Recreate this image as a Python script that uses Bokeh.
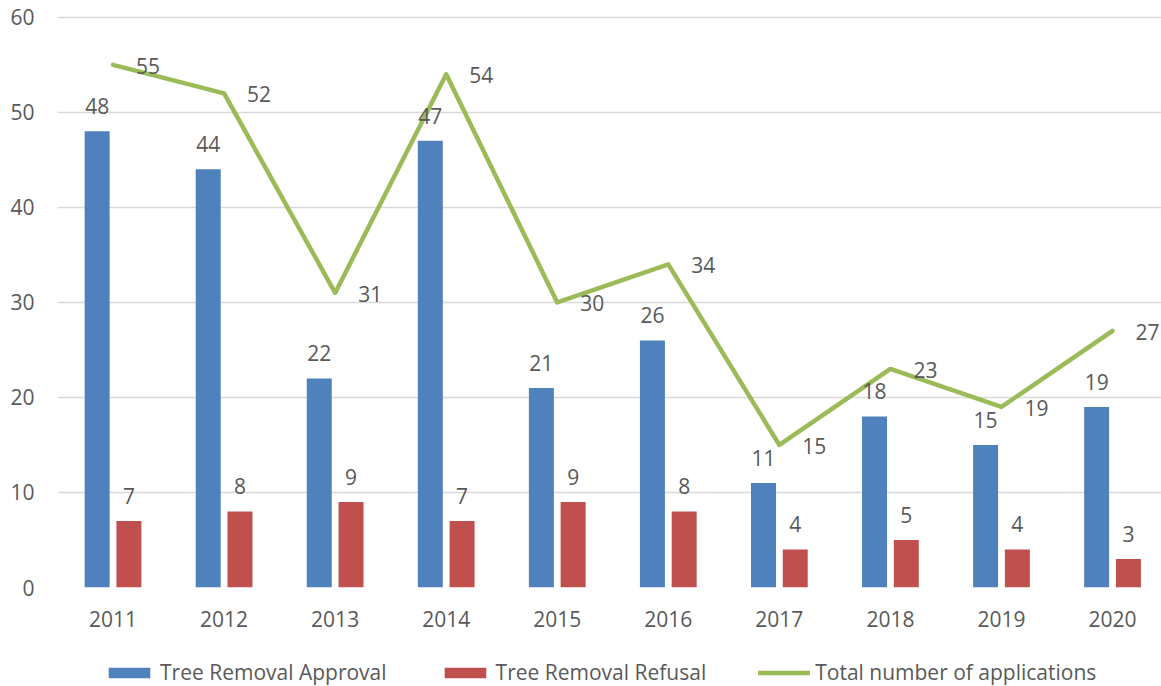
import numpy as np
from bokeh.plotting import figure
from bokeh.layouts import column
from bokeh.models import (ColumnDataSource, Range1d, FixedTicker, Legend, LegendItem)
from bokeh.core.properties import value
from bokeh.embed import file_html
from bokeh.resources import INLINE

years = ["2011", "2012", "2013", "2014", "2015", "2016", "2017", "2018", "2019", "2020"]
approval = [48, 44, 22, 47, 21, 26, 11, 18, 15, 19]
refusal = [7, 8, 9, 7, 9, 8, 4, 5, 4, 3]
total = [55, 52, 31, 54, 30, 34, 15, 23, 19, 27]
y_ticks = [0, 10, 20, 30, 40, 50, 60]

FONT = "Open Sans"
FS = "21px"
TXT = "#595959"
BLUE = "#4F81BD"
RED = "#C0504D"
GREEN = "#9BBB59"

idx = np.arange(len(years))
off = 0.143
bw = 0.225

src = ColumnDataSource(dict(
    xa=idx - off, xr=idx + off, xc=idx.astype(float),
    a=approval, r=refusal, t=total,
    al=[str(v) for v in approval], rl=[str(v) for v in refusal], tl=[str(v) for v in total],
))

W = 1161
p = figure(width=W, height=643, output_backend="svg", toolbar_location=None,
           x_range=Range1d(-0.5, 9.441), y_range=Range1d(0, 60.4),
           min_border_left=57, min_border_right=0, min_border_top=13, min_border_bottom=56)
p.outline_line_color = None
p.background_fill_color = "white"
p.border_fill_color = "white"

p.xgrid.grid_line_color = None
p.ygrid.grid_line_color = "#D9D9D9"
p.ygrid.grid_line_width = 1.5

p.yaxis.ticker = FixedTicker(ticks=y_ticks)
p.xaxis.ticker = FixedTicker(ticks=list(idx))
p.xaxis.major_label_overrides = {int(i): y for i, y in zip(idx, years)}
for ax in (p.xaxis, p.yaxis):
    ax.axis_line_color = None
    ax.major_tick_line_color = None
    ax.minor_tick_line_color = None
    ax.major_tick_out = 0
    ax.major_tick_in = 0
    ax.minor_tick_out = 0
    ax.major_label_text_font = FONT
    ax.major_label_text_font_size = FS
    ax.major_label_text_color = TXT
p.yaxis.major_label_standoff = 23
p.xaxis.major_label_standoff = 23

p.vbar(x="xa", top="a", width=bw, bottom=0, source=src, fill_color=BLUE, line_color=None)
p.vbar(x="xr", top="r", width=bw, bottom=0, source=src, fill_color=RED, line_color=None)
p.line(x="xc", y="t", source=src, line_color=GREEN, line_width=4.5, line_join="round", line_cap="round")

for xcol, ycol, lcol in (("xa", "a", "al"), ("xr", "r", "rl")):
    p.text(x=xcol, y=ycol, text=lcol, source=src, text_align="center", text_baseline="middle",
           y_offset=-25, text_font=value(FONT), text_font_size=FS, text_color=TXT)
p.text(x="xc", y="t", text="tl", source=src, text_align="left", text_baseline="middle",
       x_offset=23, y_offset=1, text_font=value(FONT), text_font_size=FS, text_color=TXT)

# legend strip (series renderers drawn outside this strip's visible ranges; only the legend shows)
p2 = figure(width=W, height=43, output_backend="svg", toolbar_location=None,
            x_range=Range1d(100, 101), y_range=Range1d(100, 101),
            min_border_left=57, min_border_right=0, min_border_top=0, min_border_bottom=0)
p2.axis.visible = False
p2.grid.visible = False
p2.outline_line_color = None
lb = p2.vbar(x="xa", top="a", width=bw, bottom=0, source=src, fill_color=BLUE, line_color=None)
lr = p2.vbar(x="xr", top="r", width=bw, bottom=0, source=src, fill_color=RED, line_color=None)
ll = p2.line(x="xc", y="t", source=src, line_color=GREEN, line_width=4.5, line_cap="round")

legend = Legend(items=[
    LegendItem(label="Tree Removal Approval", renderers=[lb]),
    LegendItem(label="Tree Removal Refusal", renderers=[lr]),
    LegendItem(label="Total number of applications", renderers=[ll]),
], orientation="horizontal", location=(46, 0))
legend.glyph_width = 52
legend.glyph_height = 13
legend.label_standoff = 5
legend.spacing = 52
legend.padding = 0
legend.margin = 0
legend.border_line_color = None
legend.background_fill_alpha = 0
legend.label_text_font = FONT
legend.label_text_font_size = FS
legend.label_text_color = TXT
p2.add_layout(legend, "center")

open("out.html", "w").write(file_html(column(p, p2, spacing=0), INLINE))
